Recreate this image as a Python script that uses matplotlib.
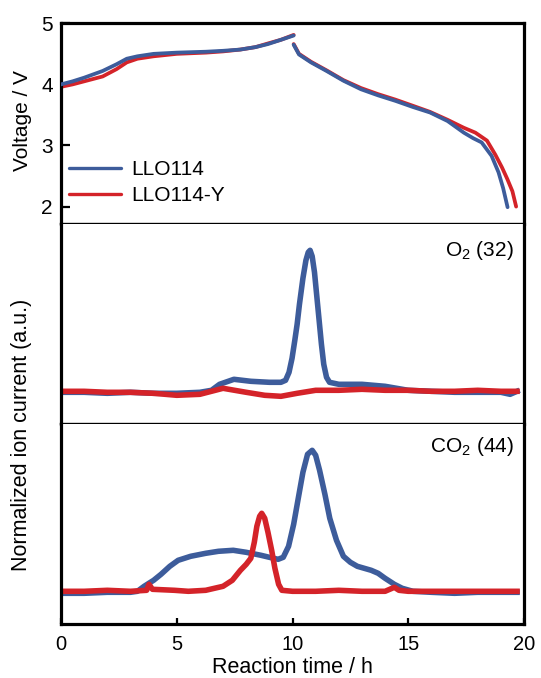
import numpy as np
import matplotlib
matplotlib.use("Agg")
from matplotlib import pyplot as plt

plt.rcParams['font.family'] = ['Liberation Sans', 'DejaVu Sans']
plt.rcParams['mathtext.fontset'] = 'custom'
plt.rcParams['mathtext.rm'] = 'Liberation Sans'

blue = "#3d5c9b"
red = "#d42329"

# voltage profile, charge then discharge (h, V)
v_blue_chg_t = [0, 0.5, 1.0, 1.8, 2.4, 2.84, 3.3, 4.0, 5.0, 6.26, 7.0, 7.74, 8.4, 8.94, 9.5, 10.05]
v_blue_chg_v = [4.0, 4.05, 4.11, 4.22, 4.33, 4.42, 4.46, 4.50, 4.52, 4.535, 4.55, 4.57, 4.61, 4.66, 4.73, 4.80]
v_red_chg_t = [0, 0.5, 1.0, 1.8, 2.4, 2.84, 3.3, 4.0, 5.0, 6.26, 7.0, 7.74, 8.4, 8.94, 9.5, 10.05]
v_red_chg_v = [3.96, 4.0, 4.05, 4.13, 4.25, 4.36, 4.42, 4.46, 4.50, 4.52, 4.54, 4.57, 4.61, 4.67, 4.73, 4.81]
v_blue_dis_t = [10.05, 10.28, 10.8, 11.47, 12.2, 12.96, 13.7, 14.45, 15.2, 15.94, 16.7, 17.4, 17.8, 18.17, 18.6, 18.9, 19.1, 19.29]
v_blue_dis_v = [4.65, 4.49, 4.36, 4.22, 4.06, 3.92, 3.82, 3.73, 3.63, 3.54, 3.40, 3.21, 3.12, 3.05, 2.83, 2.56, 2.30, 1.99]
v_red_dis_t = [10.05, 10.28, 10.8, 11.47, 12.2, 12.96, 13.7, 14.45, 15.2, 15.94, 16.7, 17.4, 17.9, 18.4, 18.76, 19.05, 19.28, 19.5, 19.66]
v_red_dis_v = [4.66, 4.50, 4.37, 4.23, 4.07, 3.94, 3.84, 3.75, 3.65, 3.55, 3.42, 3.29, 3.21, 3.08, 2.85, 2.64, 2.45, 2.25, 2.0]

# O2 (m/z 32), normalized ion current
o2_blue_t = [0, 1, 2, 3, 4, 5, 6, 6.5, 6.85, 7.47, 8.2, 9.0, 9.5, 9.7, 9.85, 9.98, 10.1, 10.2, 10.3, 10.45, 10.58, 10.68, 10.76,
             10.85, 10.95, 11.05, 11.15, 11.25, 11.35, 11.47, 11.6, 12.0, 13.0, 14.0, 15.0, 16.0, 17.0, 18.0, 19.0, 19.4, 19.7]
o2_blue_i = [0.16, 0.16, 0.155, 0.16, 0.155, 0.155, 0.16, 0.17, 0.2, 0.225, 0.215, 0.21, 0.21, 0.22, 0.26, 0.33, 0.42, 0.5, 0.6, 0.73, 0.82, 0.86, 0.87,
             0.84, 0.76, 0.64, 0.52, 0.4, 0.3, 0.235, 0.21, 0.2, 0.2, 0.19, 0.17, 0.165, 0.16, 0.16, 0.16, 0.15, 0.165]
o2_red_t = [0, 1, 2, 3, 4, 5, 6, 7, 8, 8.8, 9.5, 10.2, 11, 12, 13, 14, 15, 16, 17, 18, 19, 19.7]
o2_red_i = [0.165, 0.165, 0.16, 0.16, 0.155, 0.145, 0.15, 0.18, 0.16, 0.145, 0.14, 0.155, 0.17, 0.17, 0.175, 0.17, 0.17, 0.165, 0.165, 0.17, 0.165, 0.165]

# CO2 (m/z 44), normalized ion current
co2_blue_t = [0, 1, 2, 3, 3.3, 3.59, 4.0, 4.32, 4.7, 5.06, 5.6, 6.25, 6.8, 7.44, 8.0, 8.64, 9.0, 9.38, 9.6, 9.83, 10.05,
              10.28, 10.45, 10.65, 10.85, 11.0, 11.17, 11.4, 11.61, 11.9, 12.2, 12.5, 12.8, 13.1, 13.4, 13.7, 14.0, 14.4,
              14.74, 15.2, 16, 17, 18, 19, 19.7]
co2_blue_i = [0.155, 0.155, 0.16, 0.16, 0.165, 0.19, 0.22, 0.25, 0.29, 0.32, 0.34, 0.355, 0.365, 0.37, 0.36, 0.345, 0.335, 0.325, 0.335, 0.39, 0.5,
              0.65, 0.76, 0.85, 0.87, 0.845, 0.77, 0.65, 0.53, 0.42, 0.34, 0.31, 0.29, 0.28, 0.27, 0.255, 0.23, 0.2,
              0.18, 0.165, 0.16, 0.155, 0.16, 0.16, 0.16]
co2_red_t = [0, 1, 2, 3, 3.7, 3.8, 3.95, 4.9, 5.5, 6.25, 7.0, 7.4, 7.75, 8.0, 8.2, 8.35, 8.46, 8.58, 8.67, 8.8, 8.94, 9.1,
             9.24, 9.4, 9.54, 10, 11, 12, 13, 14, 14.4, 14.6, 15, 16, 17, 18, 19, 19.7]
co2_red_i = [0.165, 0.165, 0.17, 0.165, 0.17, 0.2, 0.175, 0.17, 0.165, 0.17, 0.19, 0.22, 0.27, 0.3, 0.33, 0.41, 0.49, 0.54, 0.555, 0.53, 0.46, 0.37,
             0.28, 0.2, 0.17, 0.165, 0.165, 0.17, 0.165, 0.165, 0.185, 0.17, 0.165, 0.165, 0.165, 0.165, 0.165, 0.165]

W, H = 541, 678
fig = plt.figure(figsize=(W / 100, H / 100), dpi=100)
L, R = 61 / W, 524 / W
ys = [1 - 23.3 / H, 1 - 224.3 / H, 1 - 424.3 / H, 1 - 624.3 / H]
ax_v = fig.add_axes([L, ys[1], R - L, ys[0] - ys[1]])
ax_o = fig.add_axes([L, ys[2], R - L, ys[1] - ys[2]], sharex=ax_v)
ax_c = fig.add_axes([L, ys[3], R - L, ys[2] - ys[3]], sharex=ax_v)

for ax in (ax_v, ax_o, ax_c):
    for s in ax.spines.values():
        s.set_linewidth(2.3)
ax_o.spines['top'].set_visible(False)
ax_c.spines['top'].set_visible(False)
ax_v.spines['bottom'].set_linewidth(1.7)
ax_o.spines['bottom'].set_linewidth(1.7)

lw_v = 2.7
ax_v.plot(v_blue_chg_t, v_blue_chg_v, color=blue, lw=lw_v, solid_capstyle='round', label="LLO114", zorder=3)
ax_v.plot(v_red_chg_t, v_red_chg_v, color=red, lw=lw_v, solid_capstyle='round', label="LLO114-Y", zorder=2)
ax_v.plot(v_red_dis_t, v_red_dis_v, color=red, lw=lw_v, solid_capstyle='round', zorder=2)
ax_v.plot(v_blue_dis_t, v_blue_dis_v, color=blue, lw=lw_v, solid_capstyle='round', zorder=3)
ax_v.set_ylim(1.71, 5.0)
ax_v.set_yticks([2, 3, 4, 5])
ax_v.tick_params(axis='y', direction='in', length=6.5, width=1.6, labelsize=15, pad=6)
ax_v.tick_params(axis='x', bottom=False, labelbottom=False)
leg = ax_v.legend(loc='lower left', bbox_to_anchor=(0.0, 0.055), frameon=False, fontsize=15,
                  handlelength=2.5, handletextpad=0.45, labelspacing=0.33, borderaxespad=0.0)
for h in leg.get_lines():
    h.set_linewidth(2.4)

lw_n = 4.0
ax_o.plot(o2_blue_t, o2_blue_i, color=blue, lw=lw_n, solid_joinstyle='round')
ax_o.plot(o2_red_t, o2_red_i, color=red, lw=lw_n, solid_joinstyle='round')
ax_o.set_ylim(0, 1)
ax_o.set_yticks([])
ax_o.tick_params(axis='x', bottom=False, labelbottom=False)
ax_o.text(0.978, 0.87, r"O$_\mathregular{2}$ (32)", transform=ax_o.transAxes, ha='right', va='center', fontsize=15)

ax_c.plot(co2_blue_t, co2_blue_i, color=blue, lw=lw_n, solid_joinstyle='round')
ax_c.plot(co2_red_t, co2_red_i, color=red, lw=lw_n, solid_joinstyle='round')
ax_c.set_ylim(0, 1)
ax_c.set_yticks([])
ax_c.set_xlim(0, 20)
ax_c.set_xticks([0, 5, 10, 15, 20])
ax_c.tick_params(axis='x', direction='in', length=4.5, width=1.6, labelsize=14.5, pad=8)
ax_c.set_xlabel("Reaction time / h", fontsize=15.5, labelpad=2)
ax_c.text(0.978, 0.89, r"CO$_\mathregular{2}$ (44)", transform=ax_c.transAxes, ha='right', va='center', fontsize=15)

fig.text(23 / W, 1 - 121 / H, "Voltage / V", rotation=90, ha='center', va='center', fontsize=15)
fig.text(22 / W, 1 - 435 / H, "Normalized ion current (a.u.)", rotation=90, ha='center', va='center', fontsize=15.5)

fig.savefig("out.png", dpi=100)
